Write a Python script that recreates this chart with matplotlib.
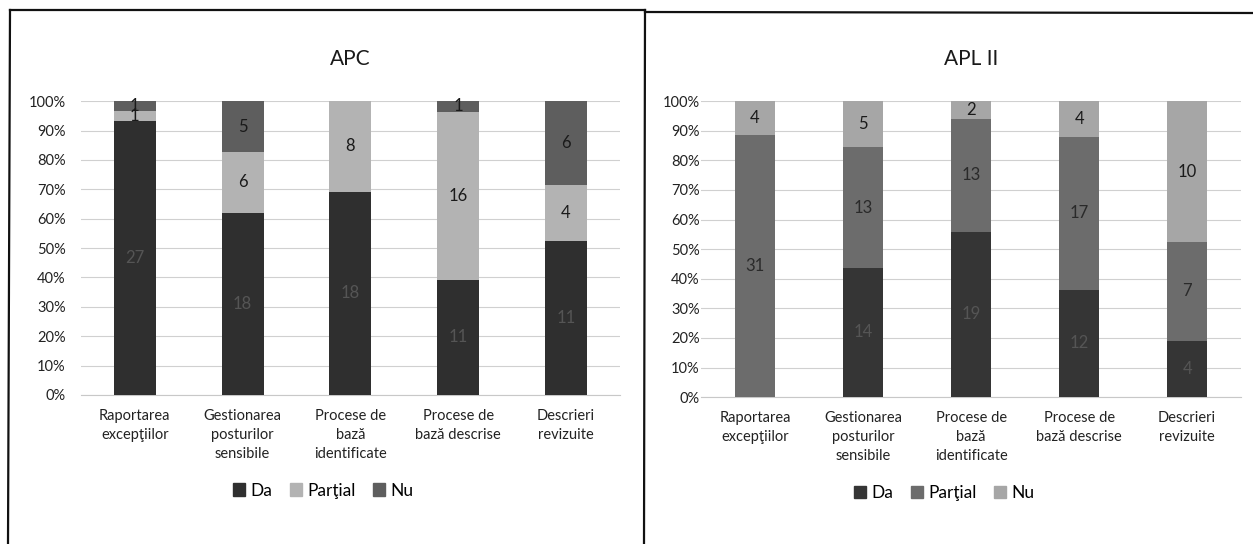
import numpy as np
import matplotlib.pyplot as plt
from matplotlib.lines import Line2D
from matplotlib.patches import Patch

plt.rcParams['font.family'] = ['Lato', 'DejaVu Sans']

categories = ['Raportarea\nexcepţiilor', 'Gestionarea\nposturilor\nsensibile',
              'Procese de\nbază\nidentificate', 'Procese de\nbază descrise',
              'Descrieri\nrevizuite']
series = ['Da', 'Parţial', 'Nu']

apc_da = [27, 18, 18, 11, 11]
apc_partial = [1, 6, 8, 16, 4]
apc_nu = [1, 5, 0, 1, 6]

apl_da = [0, 14, 19, 12, 4]
apl_partial = [31, 13, 13, 17, 7]
apl_nu = [4, 5, 2, 4, 10]

yticks = np.arange(0, 101, 10)


def stacked(ax, title, values, colors, label_colors, width, ypad):
    vals = np.array(values, dtype=float)
    totals = vals.sum(axis=0)
    pct = vals / totals * 100
    x = np.arange(len(categories))
    bottom = np.zeros(len(categories))
    for i, name in enumerate(series):
        ax.bar(x, pct[i], width, bottom=bottom, color=colors[i], label=name, zorder=3)
        for j in range(len(categories)):
            if vals[i, j] > 0:
                ax.text(x[j], bottom[j] + pct[i, j] / 2, f'{int(vals[i, j])}',
                        ha='center', va='center', fontsize=12,
                        color=label_colors[i], zorder=4)
        bottom += pct[i]
    ax.set_xlim(-0.5, len(categories) - 0.5)
    ax.set_ylim(0, 100)
    ax.set_yticks(yticks)
    ax.set_yticklabels([f'{t}%' for t in yticks], fontsize=10.5, color='#222222')
    ax.set_xticks(x)
    ax.set_xticklabels(categories, fontsize=10.5, color='#222222', linespacing=1.45)
    ax.tick_params(length=0)
    ax.tick_params(axis='y', pad=ypad)
    ax.tick_params(axis='x', pad=10)
    ax.grid(axis='y', color='#d0d0d0', lw=0.8, zorder=0)
    for s in ax.spines.values():
        s.set_visible(False)
    ax.spines['bottom'].set_visible(True)
    ax.spines['bottom'].set_color('#c8c8c8')
    ax.set_title(title, fontsize=15, pad=26, color='#1a1a1a')
    handles = [Patch(color=c) for c in colors]
    ax.legend(handles, series, loc='upper center', bbox_to_anchor=(0.45, -0.245),
              ncol=3, frameon=False, fontsize=12.5, handlelength=0.7,
              handleheight=0.7, handletextpad=0.3, columnspacing=1.0)


fig = plt.figure(figsize=(12.53, 5.44), dpi=100)

ax1 = fig.add_axes([0.0646, 0.274, 0.430, 0.540])
stacked(ax1, 'APC', [apc_da, apc_partial, apc_nu],
        ['#2f2f2f', '#b3b3b3', '#5e5e5e'], ['#555555', '#1a1a1a', '#1a1a1a'],
        0.39, 11)

ax2 = fig.add_axes([0.5595, 0.270, 0.431, 0.544])
stacked(ax2, 'APL II', [apl_da, apl_partial, apl_nu],
        ['#353535', '#6c6c6c', '#a6a6a6'], ['#555555', '#2a2a2a', '#1a1a1a'],
        0.37, 1)

# box outlines around the two charts
W, H = 1253, 544
def seg(x0, y0, x1, y1, lw=1.6):
    fig.add_artist(Line2D([x0 / W, x1 / W], [1 - y0 / H, 1 - y1 / H],
                          color='#111111', lw=lw, transform=fig.transFigure))

seg(10, 10, 645, 10)
seg(10, 10, 8, 544)
seg(645, 10, 644, 544)
seg(645, 12, 1253, 13)

fig.savefig('out.png', dpi=100, facecolor='white')
